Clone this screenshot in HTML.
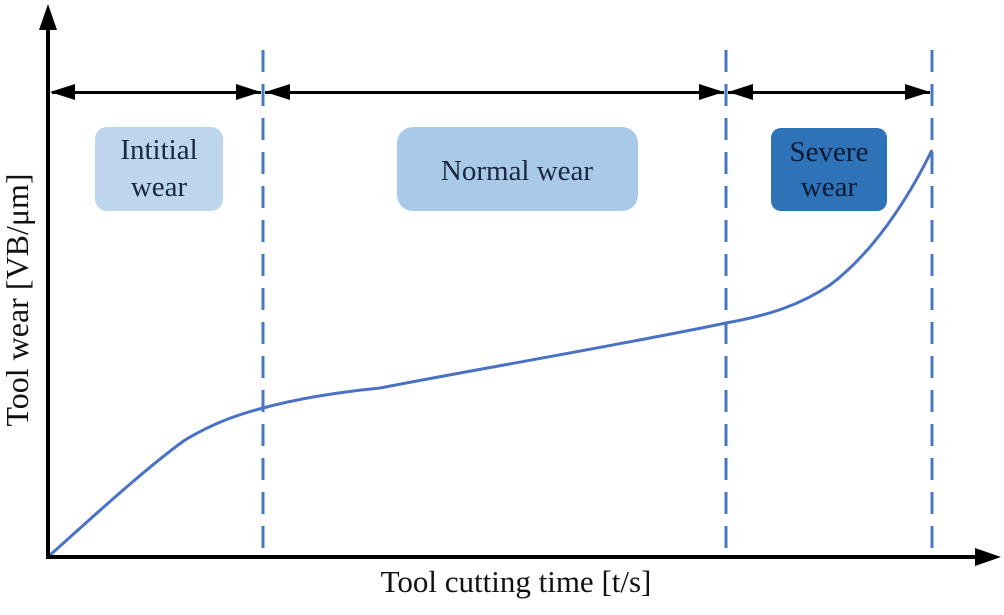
<!DOCTYPE html>
<html><head><style>body{margin:0;background:#fff}svg{display:block}</style></head>
<body>
<svg width="1004" height="615" viewBox="0 0 1004 615" font-family="Liberation Serif, serif">
<rect x="95" y="127" width="128" height="84" rx="12" fill="#bdd6ee"/>
<rect x="397" y="127" width="241" height="84" rx="16" fill="#a9c9e9"/>
<rect x="771" y="128" width="116" height="83" rx="10" fill="#2e72b8"/>
<g font-size="29" fill="#1a2740" text-anchor="middle">
<text x="159" y="159">Intitial</text><text x="159" y="196">wear</text>
<text x="517" y="180">Normal wear</text>
<text x="829" y="161" fill="#0c1a33">Severe</text><text x="829" y="196" fill="#0c1a33">wear</text>
</g>
<g stroke="#4a78c0" stroke-width="3" stroke-dasharray="22,12">
<line x1="263" y1="50" x2="263" y2="557"/>
<line x1="726" y1="50" x2="726" y2="557"/>
<line x1="932" y1="50" x2="932" y2="557"/>
</g>
<path d="M48,557 C100,510 150,465 185,440 C215,422 240,414 263,408 C300,398 340,392 380,388 C500,365 620,345 726,323 C770,315 800,305 830,285 C870,255 905,205 932,150" fill="none" stroke="#4a72c4" stroke-width="3"/>
<g fill="#000">
<rect x="52" y="91" width="209" height="3"/>
<path d="M50,92L75,84L75,100z"/><path d="M261,92L236,84L236,100z"/>
<rect x="265" y="91" width="459" height="3"/>
<path d="M265,92L290,84L290,100z"/><path d="M724,92L699,84L699,100z"/>
<rect x="728" y="91" width="202" height="3"/>
<path d="M728,92L753,84L753,100z"/><path d="M930,92L905,84L905,100z"/>
</g>
<rect x="46" y="25" width="4" height="534" fill="#000"/>
<path d="M48,4L39,30L57,30z" fill="#000"/>
<rect x="46" y="555" width="934" height="4" fill="#000"/>
<path d="M1001,557L975,548L975,566z" fill="#000"/>
<text x="516" y="592" font-size="31" text-anchor="middle" fill="#111">Tool cutting time [t/s]</text>
<text transform="translate(28,300) rotate(-90)" font-size="32" text-anchor="middle" fill="#111">Tool wear [VB/μm]</text>
</svg>
</body></html>
